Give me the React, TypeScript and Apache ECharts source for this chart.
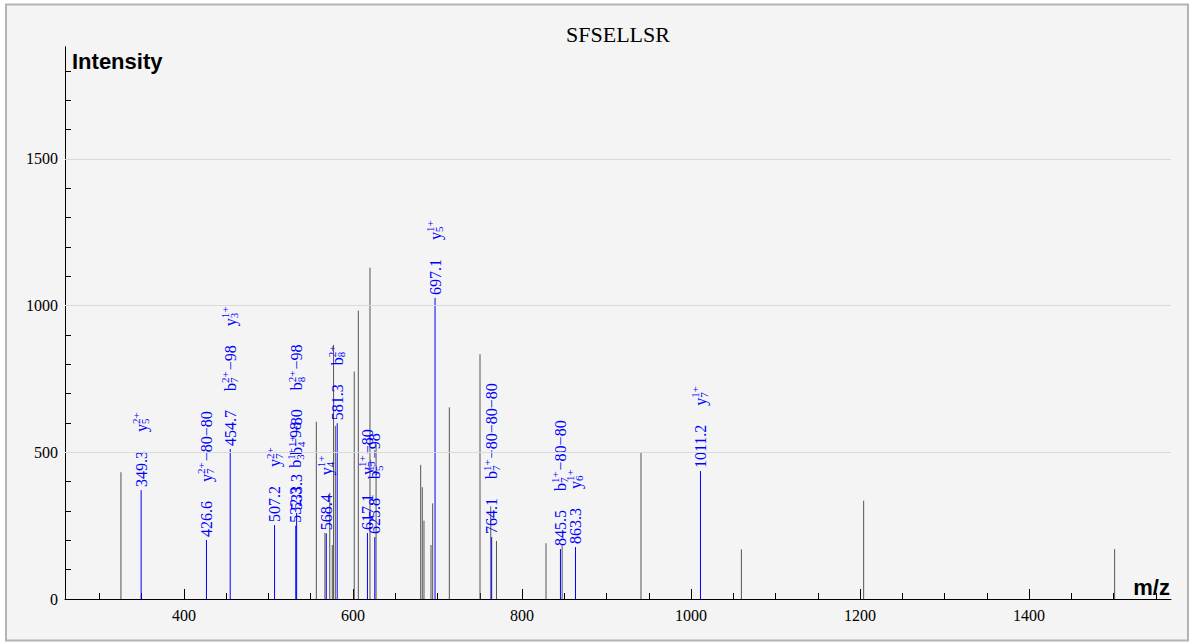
import React, { useEffect, useRef } from "react";
import * as echarts from "echarts";

const TITLE = "SFSELLSR";
const X_AXIS_NAME = "m/z";
const Y_AXIS_NAME = "Intensity";

const X_RANGE = [259.2, 1568];
const Y_RANGE = [0, 1882];
const X_MAJOR = [400, 600, 800, 1000, 1200, 1400];
const X_MINOR = [300, 350, 450, 500, 550, 650, 700, 750, 850, 900, 950, 1050, 1100, 1150, 1250, 1300, 1350, 1450, 1500, 1550];
const Y_MAJOR = [0, 500, 1000, 1500];
const Y_MINOR = [100, 200, 300, 400, 600, 700, 800, 900, 1100, 1200, 1300, 1400, 1600, 1700, 1800];
const GRID_LINES = [500, 1000, 1500];

// unannotated peaks
const grayMz = [325.4, 556.6, 566.8, 572.5, 575.5, 577.0, 579.1, 601.5, 606.3, 620.1, 627.3, 680.1, 682.0, 684.0, 692.3, 694.3, 714.0, 750.3, 763.0, 769.8, 828.4, 847.5, 940.8, 1059.6, 1204.3, 1501.3];
const grayInt = [432, 604, 225, 362, 184, 866, 590, 775, 983, 1129, 530, 457, 381, 267, 184, 326, 653, 834, 316, 198, 190, 180, 498, 169, 335, 170];

// annotated (matched) peaks
const ionMz = [349.3, 426.6, 454.7, 507.2, 532.3, 533.3, 568.4, 581.3, 617.1, 625.8, 697.1, 764.1, 845.5, 863.3, 1011.2];
const ionInt = [371, 201, 511, 252, 250, 293, 224, 599, 225, 211, 1026, 211, 170, 177, 436];
const ionNotes: string[][] = [
  ["y_5^2+"],
  ["y_7^2+−80−80"],
  ["b_7^2+−98", "y_3^1+"],
  ["y_7^2+"],
  ["b_3^1+−98"],
  ["b_4^1+−80", "b_8^2+−98"],
  ["y_4^1+"],
  ["b_8^2+"],
  ["y_5^1+−80"],
  ["b_5^1+−98"],
  ["y_5^1+"],
  ["b_7^1+−80−80−80"],
  ["b_7^1+−80−80"],
  ["y_6^1+"],
  ["y_7^1+"],
];

const BLUE = "#0000ff";
const GRAY = "#555555";
const MAIN_FONT = '16px "Liberation Serif"';
const SMALL_FONT = '11px "Liberation Serif"';
const GAP = 19;

let measureCtx: CanvasRenderingContext2D | null = null;
function measure(text: string, font: string): number {
  if (!measureCtx) measureCtx = document.createElement("canvas").getContext("2d");
  if (!measureCtx) return text.length * 7;
  measureCtx.font = font;
  return measureCtx.measureText(text).width;
}

function rotText(text: string, x: number, y: number, font: string) {
  return {
    type: "text",
    x,
    y,
    rotation: Math.PI / 2,
    style: {
      text,
      font,
      fill: BLUE,
      x: 0,
      y: 0,
      align: "left",
      verticalAlign: "middle",
      textAlign: "left",
      textVerticalAlign: "middle",
    },
  };
}

export default function App() {
  const ref = useRef<HTMLDivElement>(null);
  useEffect(() => {
    if (!ref.current) return;
    const chart = echarts.init(ref.current, undefined, { renderer: "svg" });

    const option: any = {
      animation: false,
      backgroundColor: "transparent",
      grid: { left: 65, right: 20, top: 46.7, bottom: 44, outerBoundsMode: "none" },
      graphic: [
        {
          type: "rect",
          z: -10,
          silent: true,
          shape: { x: 6, y: 4.5, width: 1182, height: 636 },
          style: { fill: "#f4f4f4", stroke: "#b3b3b3", lineWidth: 2 },
        },
        {
          type: "text",
          x: 618,
          y: 34,
          style: {
            text: TITLE,
            font: '22px "Liberation Serif"',
            fill: "#000",
            align: "center",
            verticalAlign: "middle",
            textAlign: "center",
            textVerticalAlign: "middle",
          },
        },
        {
          type: "text",
          x: 72,
          y: 61,
          style: {
            text: Y_AXIS_NAME,
            fontFamily: "Liberation Sans",
            fontSize: 22,
            fontWeight: "bold",
            fill: "#000",
            align: "left",
            verticalAlign: "middle",
            textAlign: "left",
            textVerticalAlign: "middle",
          },
        },
        {
          type: "text",
          x: 1170,
          y: 587,
          style: {
            text: X_AXIS_NAME,
            fontFamily: "Liberation Sans",
            fontSize: 22,
            fontWeight: "bold",
            fill: "#000",
            align: "right",
            verticalAlign: "middle",
            textAlign: "right",
            textVerticalAlign: "middle",
          },
        },
      ],
      xAxis: [
        {
          type: "value",
          min: X_RANGE[0],
          max: X_RANGE[1],
          position: "bottom",
          axisLine: { show: true, onZero: false, lineStyle: { color: "#000", width: 1 } },
          axisTick: { show: true, inside: true, length: 10, customValues: X_MAJOR, lineStyle: { color: "#000" } },
          axisLabel: {
            show: true,
            customValues: X_MAJOR,
            formatter: (v: number) => String(Math.round(v)),
            color: "#000",
            fontFamily: "Liberation Serif",
            fontSize: 16,
            margin: 8,
          },
          splitLine: { show: false },
        },
        {
          type: "value",
          min: X_RANGE[0],
          max: X_RANGE[1],
          position: "bottom",
          axisLine: { show: false, onZero: false },
          axisTick: { show: true, inside: true, length: 6, customValues: X_MINOR, lineStyle: { color: "#000" } },
          axisLabel: { show: false },
          splitLine: { show: false },
        },
      ],
      yAxis: [
        {
          type: "value",
          min: Y_RANGE[0],
          max: Y_RANGE[1],
          position: "left",
          axisLine: { show: true, onZero: false, lineStyle: { color: "#000", width: 1 } },
          axisTick: { show: true, inside: true, length: 10, customValues: Y_MAJOR, lineStyle: { color: "#000" } },
          axisLabel: {
            show: true,
            customValues: Y_MAJOR,
            formatter: (v: number) => String(Math.round(v)),
            color: "#000",
            fontFamily: "Liberation Serif",
            fontSize: 16,
            margin: 7,
          },
          splitLine: { show: false },
        },
        {
          type: "value",
          min: Y_RANGE[0],
          max: Y_RANGE[1],
          position: "left",
          axisLine: { show: false, onZero: false },
          axisTick: { show: true, inside: true, length: 6, customValues: Y_MINOR, lineStyle: { color: "#000" } },
          axisLabel: { show: false },
          splitLine: { show: false },
        },
      ],
      series: [
        {
          type: "custom",
          name: "peaks",
          xAxisIndex: 0,
          yAxisIndex: 0,
          z: 2,
          encode: { x: 0, y: 1 },
          data: grayMz.map((m, i) => [m, grayInt[i]]),
          renderItem: (params: any, api: any) => {
            const mz = api.value(0);
            const it = api.value(1);
            const b = api.coord([mz, 0]);
            const t = api.coord([mz, it]);
            return {
              type: "line",
              shape: { x1: b[0], y1: b[1], x2: t[0], y2: t[1] },
              style: { stroke: GRAY, lineWidth: 1 },
            };
          },
          markLine: {
            silent: true,
            symbol: ["none", "none"],
            label: { show: false },
            lineStyle: { color: "#dadada", type: "solid", width: 1 },
            data: GRID_LINES.map((v) => ({ yAxis: v })),
          },
        },
        {
          type: "custom",
          name: "ions",
          xAxisIndex: 0,
          yAxisIndex: 0,
          z: 3,
          encode: { x: 0, y: 1 },
          data: ionMz.map((m, i) => [m, ionInt[i]]),
          renderItem: (params: any, api: any) => {
            const i = params.dataIndex;
            const mz = api.value(0);
            const it = api.value(1);
            const b = api.coord([mz, 0]);
            const t = api.coord([mz, it]);
            const x = b[0];
            const children: any[] = [
              {
                type: "line",
                shape: { x1: x, y1: b[1], x2: x, y2: t[1] },
                style: { stroke: BLUE, lineWidth: 1 },
              },
            ];
            let u = t[1] - 3;
            const num = ionMz[i].toFixed(1);
            children.push(rotText(num, x, u, MAIN_FONT));
            u -= measure(num, MAIN_FONT) + GAP;
            for (const note of ionNotes[i]) {
              const m = note.match(/^([a-z])_(\d+)\^(\d\+)(.*)$/);
              if (!m) continue;
              const [, base, sub, sup, tail] = m;
              const wb = measure(base, MAIN_FONT);
              children.push(rotText(base, x, u, MAIN_FONT));
              const ws = Math.max(measure(sub, SMALL_FONT), measure(sup, SMALL_FONT));
              children.push(rotText(sup, x - 5, u - wb, SMALL_FONT));
              children.push(rotText(sub, x + 4, u - wb, SMALL_FONT));
              let total = wb + ws + 1;
              if (tail) {
                children.push(rotText(tail, x, u - total, MAIN_FONT));
                total += measure(tail, MAIN_FONT);
              }
              u -= total + GAP;
            }
            return { type: "group", children };
          },
        },
      ],
    };

    chart.setOption(option);
    return () => chart.dispose();
  }, []);

  return (
    <div style={{ position: "fixed", left: 0, top: 0, width: 1191, height: 643, background: "#fff" }}>
      <div ref={ref} style={{ width: 1191, height: 643 }} />
    </div>
  );
}
